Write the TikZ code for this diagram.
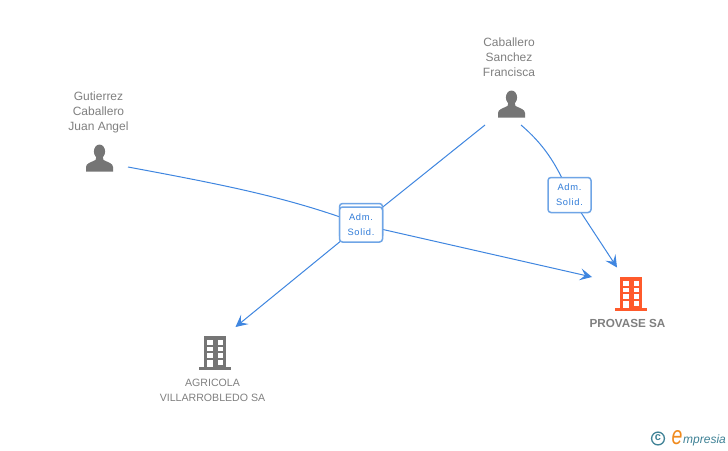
\documentclass[tikz,border=0pt]{standalone}
\usepackage{fontspec}
\setmainfont{Liberation Sans}
\newfontfamily\spacedfont[LetterSpace=8]{Liberation Sans}
\usetikzlibrary{arrows.meta}
\definecolor{txtgrey}{HTML}{808080}
\definecolor{icongrey}{HTML}{757575}
\definecolor{linkblue}{HTML}{3F86E0}
\definecolor{boxblue}{HTML}{6FA5E6}
\definecolor{boxtext}{HTML}{2F7BD8}
\definecolor{orangeb}{HTML}{FF5A2B}
\definecolor{logoteal}{HTML}{3F8296}
\definecolor{logoorange}{HTML}{F08A1D}
\tikzset{
  x=1pt,y=-1pt,
  label/.style={font=\fontsize{12}{15}\selectfont,text=txtgrey,align=center,inner sep=0pt},
  companylabel/.style={font=\fontsize{10.6}{15}\selectfont,text=txtgrey,align=center,inner sep=0pt,anchor=north},
  role/.style={draw=boxblue,line width=1.5pt,fill=white,rounded corners=3pt,minimum width=43pt,minimum height=35pt,inner sep=0pt,align=center,text=boxtext,font=\spacedfont\fontsize{9.3}{15}\selectfont},
  link/.style={draw=linkblue,line width=1pt},
  arrowlink/.style={link,-{Stealth[length=12pt,width=12pt,inset=5pt]}},
  person/.pic={
    \fill[icongrey] (0,6.5) ellipse (5.6 and 7);
    \fill[icongrey] (-13.5,26.7) -- (-13.5,22) .. controls (-13.5,18.5) and (-9,17.5) .. (-4,15) -- (-3,11) -- (3,11) -- (4,15) .. controls (9,17.5) and (13.5,18.5) .. (13.5,22) -- (13.5,26.7) -- cycle;
  },
  building/.pic={
    \fill[#1] (-11,0) rectangle (11,31);
    \fill[#1] (-16,31) rectangle (16,34);
    \foreach \yy in {4,10.7,17.3,24}{
      \fill[white] (-7.7,\yy) rectangle (-2.3,\yy+4.6);
      \fill[white] (2.7,\yy) rectangle (8,\yy+4.6);
    }
    \fill[white] (-7.7,24) rectangle (-2.3,31);
  },
}
\begin{document}
\begin{tikzpicture}
\useasboundingbox (0,0) rectangle (728,450);
\fill[white] (0,0) rectangle (728,450);
% people labels
\node[label] (gut) at (98.5,112) {Gutierrez\\Caballero\\Juan Angel};
\node[label] (cab) at (509,57) {Caballero\\Sanchez\\Francisca};
\node[companylabel] (agr) at (212.5,379) {AGRICOLA\\VILLARROBLEDO SA};
\node[companylabel,font=\bfseries\fontsize{11.7}{15}\selectfont] (prov) at (627.5,319) {PROVASE SA};
% icons
\pic at (99.5,145) {person};
\pic at (511.5,91) {person};
\pic at (215,336) {building=icongrey};
\pic at (631,277) {building=orangeb};
% connector ends at the icons
\coordinate (gutOut) at (128,167);
\coordinate (cabOutL) at (485,125);
\coordinate (cabOutR) at (521,125);
\coordinate (agrIn) at (235.5,327);
\coordinate (provInL) at (592,277);
\coordinate (provInT) at (617,267.5);
% role boxes' positions
\coordinate (boxAc) at (361,224.5);
\coordinate (boxBc) at (569.5,195);
% connectors
\draw[link] (gutOut) .. controls (230,186) and (290,198) .. (boxAc);
\draw[arrowlink] (boxAc) -- (provInL);
\draw[link] (cabOutL) -- (boxAc);
\draw[arrowlink] (boxAc) -- (agrIn);
\draw[link] (cabOutR) .. controls (542,143) and (556,162) .. (boxBc);
\draw[arrowlink] (boxBc) -- (provInT);
% role boxes
\node[role] (boxAback) at (361,221) {};
\node[role] (boxA) at (361,224.5) {Adm.\\Solid.};
\node[role] (boxB) at (569.5,195) {Adm.\\Solid.};
% logo
\draw[logoteal,line width=1.3pt] (658,438.5) circle (6.4);
\node[inner sep=0pt,text=logoteal,font=\bfseries\fontsize{11}{11}\selectfont] (copy) at (658,437.8) {c};
\node[inner sep=0pt,text=logoorange,font=\itshape\fontsize{26}{26}\selectfont,anchor=base,xscale=.75] (logoe) at (677,444) {e};
\node[inner sep=0pt,text=logoteal,font=\itshape\fontsize{12}{12}\selectfont,anchor=base west] (logot) at (683,443) {mpresia};
\end{tikzpicture}
\end{document}
